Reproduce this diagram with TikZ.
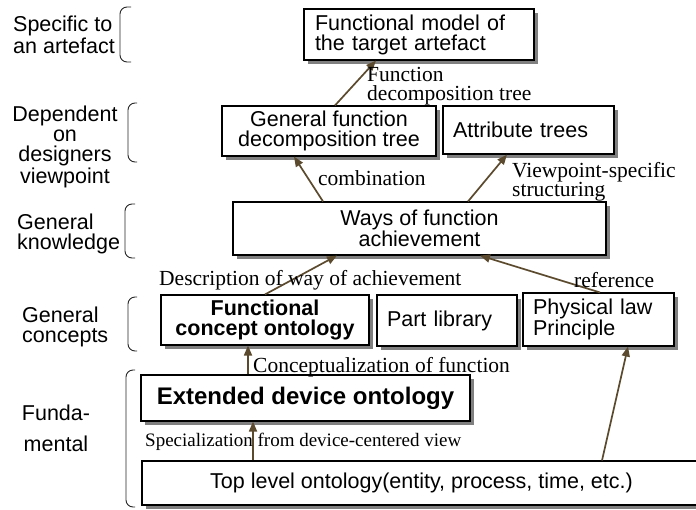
\documentclass[tikz,border=0pt]{standalone}
\usepackage{fontspec}
\setmainfont{Liberation Serif}
\setsansfont{Liberation Sans}
\usetikzlibrary{shadows,arrows.meta}
\definecolor{arrowbrown}{RGB}{92,74,46}
\begin{document}
\begin{tikzpicture}[x=1pt,y=-1pt,
  box/.style={draw=black, line width=1.1pt, fill=white, inner sep=0pt,
    drop shadow={shadow xshift=4pt,shadow yshift=-4pt,fill=black!50,opacity=1}},
  boxtext/.style={font=\sffamily\fontsize{21.5}{20}\selectfont, align=center},
  boldtext/.style={font=\sffamily\bfseries\fontsize{21.5}{20}\selectfont, align=center},
  lefttext/.style={font=\sffamily\fontsize{21.5}{20}\selectfont, align=left},
  lab/.style={font=\fontsize{21.5}{19}\selectfont, inner sep=0pt, align=left, anchor=base west},
  side/.style={font=\sffamily\fontsize{21.5}{20}\selectfont, inner sep=0pt, anchor=base west, align=left},
  arr/.style={draw=arrowbrown, line width=1.7pt, -{Triangle[length=10pt,width=8pt]}},
  brk/.style={draw=black!85, line width=0.9pt, rounded corners=7pt}]
\useasboundingbox (0,0) rectangle (696,509);
\fill[white] (0,0) rectangle (696,509);

% ontology boxes
\node[box, lefttext, minimum width=230pt, minimum height=51pt, text width=208pt, inner xsep=11pt] (b1) at (419,34.5) {Functional model of\\the target artefact};
\node[box, boxtext, minimum width=214pt, minimum height=50pt] (b2) at (329,131) {General function\\decomposition tree};
\node[box, lefttext, minimum width=171pt, minimum height=48pt, text width=151pt, inner xsep=10pt] (b3) at (528.5,130) {Attribute trees};
\node[box, boxtext, minimum width=373pt, minimum height=53pt] (b4) at (419.5,228.5) {Ways of function\\achievement};
\node[box, boldtext, minimum width=208pt, minimum height=50pt] (b5) at (265,320) {Functional\\concept ontology};
\node[box, lefttext, minimum width=140pt, minimum height=51pt, text width=120pt, inner xsep=10pt] (b6) at (447,320.5) {Part library};
\node[box, lefttext, minimum width=151pt, minimum height=53pt, text width=131pt, inner xsep=10pt] (b7) at (598.5,319.5) {Physical law\\Principle};
\node[box, font=\sffamily\bfseries\fontsize{24}{24}\selectfont, minimum width=329pt, minimum height=46pt] (b8) at (305.5,398) {Extended device ontology};
\node[box, boxtext, minimum width=559pt, minimum height=44pt] (b9) at (421.5,483) {Top level ontology(entity, process, time, etc.)};

% connectors
\draw[arr] ([xshift=6pt]b2.north) -- ([xshift=-43pt]b1.south);
\draw[arr] ([xshift=-96.5pt]b4.north) -- ([xshift=-35pt]b2.south);
\draw[arr] ([xshift=48.5pt]b4.north) -- ([xshift=-21.5pt]b3.south);
\draw[arr] (b5.north) -- ([xshift=-82.5pt]b4.south);
\draw[arr] ([xshift=1.5pt]b7.north) -- ([xshift=60.5pt]b4.south);
\draw[arr] ([xshift=-57.5pt]b8.north) -- ([xshift=-17pt]b5.south);
\draw[arr] ([xshift=-168.5pt]b9.north) -- ([xshift=-52.5pt]b8.south);
\draw[arr] ([xshift=180.5pt]b9.north) -- ([xshift=29.5pt]b7.south);

% connector labels
\node[lab] (l1) at (367,100) {Function\\decomposition tree};
\node[lab] (l2) at (318,185) {combination};
\node[lab] (l3) at (512,196) {Viewpoint-specific\\structuring};
\node[lab] (l4) at (159,285) {Description of way of achievement};
\node[lab] (l5) at (574,287) {reference};
\node[lab] (l6) at (253,372) {Conceptualization of function};
\node[lab, font=\fontsize{19}{19}\selectfont] (l7) at (145,446) {Specialization from device-centered view};

% level captions
\node[side] (s1) at (13,53) {Specific to\\an artefact};
\node[side, anchor=base, align=center] (s2) at (65,183) {Dependent\\on\\designers\\viewpoint};
\node[side] (s3) at (17,249) {General\\knowledge};
\node[side] (s4) at (22,342) {General\\concepts};
\node[side, anchor=base, align=center, font=\sffamily\fontsize{21.5}{31}\selectfont] (s5) at (56,451) {Funda-\\mental};

% level brackets
\draw[brk] (131,7) -- (120,7) -- (120,62) -- (131,62);
\draw[brk] (137,103) -- (128,103) -- (128,162) -- (137,162);
\draw[brk] (135,204) -- (125,204) -- (125,258) -- (135,258);
\draw[brk] (137,297) -- (128,297) -- (128,351) -- (137,351);
\draw[brk] (135,370) -- (126,370) -- (126,507) -- (135,507);
\end{tikzpicture}
\end{document}
